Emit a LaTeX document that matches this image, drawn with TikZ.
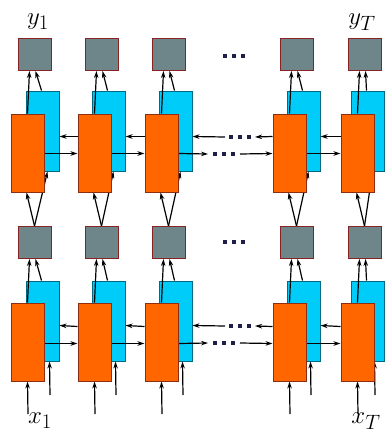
\documentclass[tikz,border=0pt]{standalone}
\usetikzlibrary{calc,arrows.meta}
\pgfdeclarelayer{back}
\pgfdeclarelayer{bg}
\pgfdeclarelayer{fg}
\pgfsetlayers{back,bg,main,fg}
\definecolor{ofill}{RGB}{255,102,0}
\definecolor{odraw}{RGB}{140,45,20}
\definecolor{bfill}{RGB}{0,204,250}
\definecolor{bdraw}{RGB}{0,105,130}
\definecolor{gfill}{RGB}{110,133,138}
\definecolor{gdraw}{RGB}{135,35,35}
\definecolor{dotc}{RGB}{30,30,70}
\tikzset{
  obox/.style={draw=odraw,fill=ofill,line width=1pt,minimum width=33pt,minimum height=78pt,inner sep=0pt},
  bbox/.style={draw=bdraw,fill=bfill,line width=1pt,minimum width=33pt,minimum height=80pt,inner sep=0pt},
  gbox/.style={draw=gdraw,fill=gfill,line width=1pt,minimum width=33pt,minimum height=32pt,inner sep=0pt},
  arr/.style={-{Stealth[length=7pt,width=4.5pt]},line width=1.2pt,black},
  dotmark/.style={fill=dotc,minimum size=4pt,inner sep=0pt},
  lbl/.style={inner sep=0pt,font=\fontsize{31}{35}\selectfont}
}
\begin{document}
\begin{tikzpicture}[x=1pt,y=-1pt]
\begin{pgfonlayer}{back}
\fill[white] (0,0) rectangle (387,434);
\end{pgfonlayer}
\useasboundingbox (0,0) rectangle (387,434);
% boxes
\foreach \c/\ox/\bo in {1/11/15,2/78/14,3/145/14,4/273/14,5/341/10}{
  \begin{pgfonlayer}{bg}
    \node[bbox] (bA\c) at (\ox+\bo+16.5,131) {};
    \node[bbox] (bB\c) at (\ox+\bo+16.5,321) {};
  \end{pgfonlayer}
  \begin{pgfonlayer}{fg}
    \node[obox] (oA\c) at (\ox+16.5,153) {};
    \node[obox] (oB\c) at (\ox+16.5,342) {};
    \node[gbox] (gT\c) at (\ox+23.5,54.5) {};
    \node[gbox] (gM\c) at (\ox+23.5,242.5) {};
  \end{pgfonlayer}
  \coordinate (inO\c) at (\ox+17,414);
  \coordinate (inB\c) at (\ox+\bo+24,395);
}
% vertical connections
\foreach \c in {1,...,5}{
  \draw[arr] ($(oA\c.north west)+(17,0)$) -- ($(gT\c.south west)+(12,0)$);
  \draw[arr] ($(bA\c.north west)+(16,0)$) -- ($(gT\c.south west)+(18,0)$);
  \draw[arr] ($(gM\c.north west)+(17,0)$) -- ($(oA\c.south west)+(16,0)$);
  \draw[arr] ($(gM\c.north west)+(17,0)$) -- ($(bA\c.south west)+(22,0)$);
  \draw[arr] ($(oB\c.north west)+(17,0)$) -- ($(gM\c.south west)+(12,0)$);
  \draw[arr] ($(bB\c.north west)+(16,0)$) -- ($(gM\c.south west)+(18,0)$);
  \draw[arr] (inO\c) -- ($(oB\c.south west)+(17,0)$);
  \draw[arr] (inB\c) -- ($(bB\c.south west)+(24,0)$);
}
% horizontal connections
\foreach \a/\b in {1/2,2/3,4/5}{
  \draw[arr] ($(oA\b.north west)+(0,23)$) -- ($(bA\a.north east)+(0,46)$);
  \draw[arr] ($(oA\a.north east)+(0,40)$) -- ($(oA\b.north west)+(0,40)$);
  \draw[arr] ($(oB\b.north west)+(0,24)$) -- ($(bB\a.north east)+(0,45)$);
  \draw[arr] ($(oB\a.north east)+(0,41)$) -- ($(oB\b.north west)+(0,41)$);
}
% gaps with dots
\foreach \L/\oy/\by/\dy in {A/23/46/0,B/24/45/189}{
  \coordinate (u1\L) at (255,137+\dy);
  \coordinate (u2\L) at (225,137+\dy);
  \coordinate (l1\L) at (208,154+\dy);
  \coordinate (l2\L) at (240,154+\dy);
  \draw[arr] ($(o\L4.north west)+(0,\oy)$) -- (u1\L);
  \draw[arr] (u2\L) -- ($(b\L3.north east)+(0,\by)$);
  \draw[arr] ($(o\L3.north east)+(0,\oy+17)$) -- (l1\L);
  \draw[arr] (l2\L) -- ($(o\L4.north west)+(0,\oy+17)$);
  \foreach \i/\x in {1/231,2/240,3/249}{
    \node[dotmark] (ud\L\i) at (\x,137+\dy) {};
  }
  \foreach \i/\x in {1/215,2/224,3/233}{
    \node[dotmark] (ld\L\i) at (\x,154+\dy) {};
  }
}
% row dots
\foreach \i/\x in {1/225,2/234,3/243}{
  \node[dotmark] (td\i) at (\x,56) {};
  \node[dotmark] (md\i) at (\x,242) {};
}
% labels
\node[lbl] (y1) at (38,22) {$y_1$};
\node[lbl] (yT) at (362,22) {$y_T$};
\node[lbl] (x1) at (40,421) {$x_1$};
\node[lbl] (xT) at (366,421) {$x_T$};
\end{tikzpicture}
\end{document}
